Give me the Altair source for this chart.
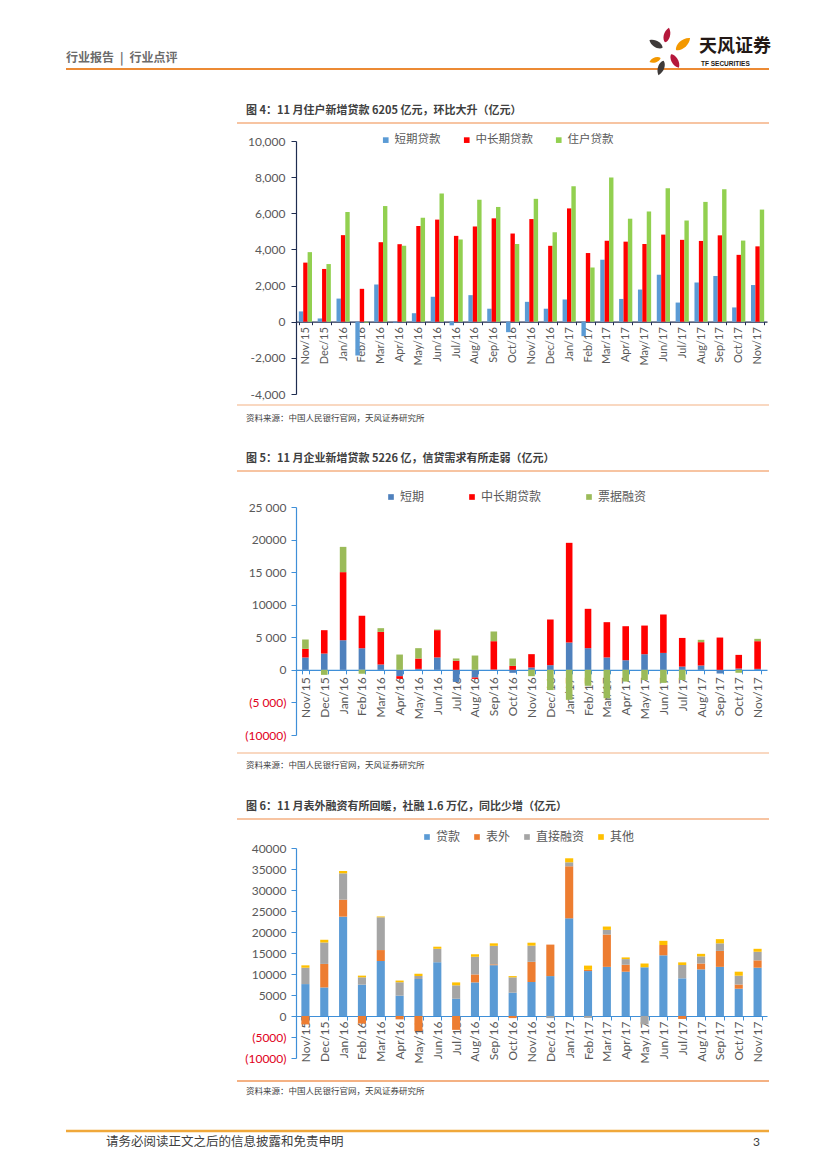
import altair as alt
import pandas as pd

# ---------------- data ----------------
MONTHS = ["Nov/15", "Dec/15", "Jan/16", "Feb/16", "Mar/16", "Apr/16", "May/16", "Jun/16",
          "Jul/16", "Aug/16", "Sep/16", "Oct/16", "Nov/16", "Dec/16", "Jan/17", "Feb/17",
          "Mar/17", "Apr/17", "May/17", "Jun/17", "Jul/17", "Aug/17", "Sep/17", "Oct/17", "Nov/17"]

# Figure 4: household loans
S4 = ["短期贷款", "中长期贷款", "住户贷款"]
HH_SHORT = [570, 180, 1280, -1870, 2060, -50, 470, 1380, -200, 1470, 720, -580, 1100, 720,
            1230, -800, 3430, 1260, 1780, 2600, 1060, 2170, 2530, 790, 2030]
HH_MIDLONG = [3270, 2920, 4790, 1820, 4400, 4290, 5300, 5650, 4750, 5270, 5720, 4880, 5680, 4200,
              6270, 3800, 4480, 4430, 4300, 4820, 4530, 4470, 4780, 3700, 4170]
HH_TOTAL = [3850, 3190, 6070, -50, 6400, 4200, 5750, 7100, 4550, 6750, 6350, 4300, 6800, 4950,
            7500, 3000, 7980, 5700, 6100, 7380, 5600, 6630, 7330, 4490, 6205]
Y4_TICKS = [-4000, -2000, 0, 2000, 4000, 6000, 8000, 10000]
Y4_LABELS = ["-4,000", "-2,000", "0", "2,000", "4,000", "6,000", "8,000", "10,000"]

# Figure 5: enterprise loans
S5 = ["短期", "中长期贷款", "票据融资"]
EN_SHORT = [1900, 2500, 4550, 3330, 820, -970, 150, 1900, -1850, -1180, 50, -460, 360, 720,
            4200, 3330, 1900, 1480, 2400, 2600, 500, 670, -560, 200, 150]
EN_MIDLONG = [1320, 3590, 10450, 4960, 5010, -410, 1590, 4190, 1400, -200, 4350, 610, 2050, 7010,
              15300, 6040, 5420, 5220, 4400, 5900, 4400, 3580, 4960, 2100, 4250]
EN_BILL = [1440, -770, 3880, -600, 570, 2350, 1590, 100, 350, 2200, 1490, 1130, -970, -3100,
           -4600, -2450, -4350, -1800, -1550, -2000, -1550, 360, 0, -450, 360]
Y5_TICKS = [-10000, -5000, 0, 5000, 10000, 15000, 20000, 25000]
Y5_LABELS = ["(10000)", "(5 000)", "0", "5 000", "10000", "15 000", "20000", "25 000"]

# Figure 6: total social financing
S6 = ["贷款", "表外", "直接融资", "其他"]
SF_LOAN = [7600, 6800, 23650, 7460, 13100, 4840, 8800, 12800, 4100, 8000, 12100, 5550, 8100, 9500,
           23250, 10700, 11700, 10550, 11600, 14450, 8970, 11100, 11700, 6500, 11500]
SF_OFFBS = [-2000, 5600, 4050, -1800, 2600, -800, -3600, 0, -3300, 1900, 200, -500, 4800, 7500,
            12400, 300, 7700, 1650, 0, 2450, -700, 1400, 3800, 1000, 1750]
SF_DIRECT = [3900, 5100, 6270, 1750, 7800, 3200, 700, 3200, 3200, 4200, 4400, 3650, 3850, -500,
             950, -450, 1100, 1350, -2000, 0, 3170, 1700, 1800, 2100, 2050]
SF_OTHER = [560, 650, 560, 400, 200, 400, 550, 500, 700, 600, 600, 300, 700, 0,
            950, 1000, 800, 400, 900, 1000, 630, 600, 1000, 950, 700]
Y6_TICKS = [-10000, -5000, 0, 5000, 10000, 15000, 20000, 25000, 30000, 35000, 40000]
Y6_LABELS = ["(10000)", "(5000)", "0", "5000", "10000", "15000", "20000", "25000", "30000", "35000", "40000"]

TITLE4 = "图 4：11 月住户新增贷款 6205 亿元，环比大升（亿元）"
TITLE5 = "图 5：11 月企业新增贷款 5226 亿，信贷需求有所走弱（亿元）"
TITLE6 = "图 6：11 月表外融资有所回暖，社融 1.6 万亿，同比少增（亿元）"
SOURCE = "资料来源：中国人民银行官网，天风证券研究所"
HEADER = "行业报告\u2002|\u2002行业点评"
FOOTER = "请务必阅读正文之后的信息披露和免责申明"
PAGE_NO = "3"

# ---------------- styles ----------------
CJK = "Noto Sans CJK SC"
LAT = "Lato"
GRAY = "#595959"
NAVY = "#1f2d50"
BLUE_AX = "#3f8fd8"
NEG_RED = "#e0001b"
ORANGE_LINE = "#f4b183"
W = 471
H4, H5, H6 = 253, 228, 210
SP = 113

ONE = alt.Data(values=[{"d": 0}])
LEAF = "M0,-1 C0.6,-0.4 0.5,0.7 0,1 C-0.5,0.7 -0.6,-0.4 0,-1 Z"


def long(names, arrays):
    rows = []
    for k, (name, arr) in enumerate(zip(names, arrays)):
        for m, v in zip(MONTHS, arr):
            rows.append({"month": m, "series": name, "value": v, "k": k})
    return pd.DataFrame(rows)


def txt(x, y, s, size, color, weight="normal", font=CJK, align="left"):
    return alt.Chart(ONE).mark_text(
        align=align, baseline="middle", font=font, fontSize=size, fontWeight=weight, color=color
    ).encode(x=alt.value(x), y=alt.value(y), text=alt.value(s))


def hline(x1, x2, y, color, w):
    return alt.Chart(ONE).mark_rule(color=color, strokeWidth=w).encode(
        x=alt.value(x1), x2=alt.value(x2), y=alt.value(y))


def petal(x, y, ang, size, color):
    return alt.Chart(ONE).mark_point(
        shape=LEAF, filled=True, opacity=1, color=color, size=size, angle=ang, strokeWidth=0
    ).encode(x=alt.value(x), y=alt.value(y))


def label_expr(ticks, labels):
    e = "''"
    for t, l in zip(ticks, labels):
        e = f"datum.value == {t} ? '{l}' : ({e})"
    return e


def xaxis(offset, size, tick, pad, color):
    return alt.Axis(title=None, labelAngle=270, labelFont=LAT, labelFontSize=size, labelColor=GRAY,
                    labelPadding=pad, tickSize=tick, tickBand="extent", tickColor=color,
                    domainColor=color, domainWidth=1.2, offset=offset, labelOverlap=False, grid=False)


def legend(x, y, pad, size):
    return alt.Legend(title=None, orient="none", legendX=x, legendY=y, direction="horizontal",
                      symbolType="square", symbolSize=32, symbolStrokeWidth=0, labelFont=CJK,
                      labelFontSize=size, labelColor=GRAY, columnPadding=pad, labelOffset=3,
                      padding=0, labelLimit=300)


NEG_COLOR = {"condition": {"test": "datum.value < 0", "value": NEG_RED}, "value": GRAY}

# ---------------- figure 4 ----------------
df4 = long(S4, [HH_SHORT, HH_MIDLONG, HH_TOTAL])
d4 = [-4000, 10000]
off4 = -H4 * (0 - d4[0]) / (d4[1] - d4[0])
bars4 = alt.Chart(df4).mark_bar().encode(
    x=alt.X("month:N", sort=MONTHS, scale=alt.Scale(paddingInner=0.3, paddingOuter=0.15),
            axis=xaxis(off4, 11, 3, 2, NAVY)),
    xOffset=alt.XOffset("series:N", scale=alt.Scale(domain=S4)),
    y=alt.Y("value:Q", scale=alt.Scale(domain=d4, nice=False),
            axis=alt.Axis(title=None, values=Y4_TICKS, labelExpr=label_expr(Y4_TICKS, Y4_LABELS),
                          labelFont=LAT, labelFontSize=12, labelColor=GRAY, tickSize=5,
                          tickColor=NAVY, domainColor=NAVY, domainWidth=1.2, labelPadding=6,
                          grid=False)),
    color=alt.Color("series:N", scale=alt.Scale(domain=S4, range=["#5b9bd5", "#ff0000", "#92d050"]),
                    legend=legend(84, -7, 20, 11.5)),
)

deco4 = [
    hline(-287, -286, -132, "white", 1),  # page anchor
    txt(-230, -83, HEADER, 12, "#6b6b6b", "bold"),
    hline(-230, 473, -72, "#ec8a34", 2),
    petal(371, -106, 15, 230, "#b5173b"),
    petal(387, -97, 50, 340, "#f39800"),
    petal(360, -97, 300, 230, "#3e3a39"),
    petal(359, -81, 250, 140, "#f39800"),
    petal(379, -80, 150, 250, "#b5173b"),
    petal(365, -73, 200, 230, "#3e3a39"),
    txt(403, -94, "天风证券", 18, "#231815", "bold"),
    txt(405, -77, "TF SECURITIES", 6.5, "#231815", "bold", "Liberation Sans"),
    txt(-50, -30, TITLE4, 11, "#404040", "bold"),
    hline(-59, 473, -18, ORANGE_LINE, 1.5),
    hline(-59, 473, 264, ORANGE_LINE, 1.2),
    txt(-50, 277, SOURCE, 8.5, "#404040"),
]
p4 = alt.layer(bars4, *deco4).properties(width=W, height=H4)

# ---------------- figure 5 ----------------
df5 = long(S5, [EN_SHORT, EN_MIDLONG, EN_BILL])
d5 = [-10000, 25000]
off5 = -H5 * (0 - d5[0]) / (d5[1] - d5[0])
bars5 = alt.Chart(df5).mark_bar().encode(
    x=alt.X("month:N", sort=MONTHS, scale=alt.Scale(paddingInner=0.65, paddingOuter=0.325),
            axis=xaxis(off5, 12, 4, 3, BLUE_AX)),
    y=alt.Y("value:Q", stack="zero", scale=alt.Scale(domain=d5, nice=False),
            axis=alt.Axis(title=None, values=Y5_TICKS, labelExpr=label_expr(Y5_TICKS, Y5_LABELS),
                          labelFont=LAT, labelFontSize=12, labelColor=NEG_COLOR, tickSize=5,
                          tickColor=BLUE_AX, domainColor=BLUE_AX, domainWidth=1.2, labelPadding=5,
                          grid=False)),
    color=alt.Color("series:N", scale=alt.Scale(domain=S5, range=["#4f81bd", "#ff0000", "#9bbb59"]),
                    legend=legend(89, -16, 41, 12)),
    order=alt.Order("k:Q", sort="ascending"),
)
deco5 = [
    txt(-50, -48, TITLE5, 11, "#404040", "bold"),
    hline(-59, 473, -36, ORANGE_LINE, 1.5),
    hline(-59, 473, 246, ORANGE_LINE, 1.2),
    txt(-50, 258, SOURCE, 8.5, "#404040"),
]
p5 = alt.layer(bars5, *deco5).properties(width=W, height=H5)

# ---------------- figure 6 ----------------
df6 = long(S6, [SF_LOAN, SF_OFFBS, SF_DIRECT, SF_OTHER])
d6 = [-10000, 40000]
off6 = -H6 * (0 - d6[0]) / (d6[1] - d6[0])
bars6 = alt.Chart(df6).mark_bar().encode(
    x=alt.X("month:N", sort=MONTHS, scale=alt.Scale(paddingInner=0.57, paddingOuter=0.285),
            axis=xaxis(off6, 12, 4, 1, BLUE_AX)),
    y=alt.Y("value:Q", stack="zero", scale=alt.Scale(domain=d6, nice=False),
            axis=alt.Axis(title=None, values=Y6_TICKS, labelExpr=label_expr(Y6_TICKS, Y6_LABELS),
                          labelFont=LAT, labelFontSize=12, labelColor=NEG_COLOR, tickSize=5,
                          tickColor=BLUE_AX, domainColor=BLUE_AX, domainWidth=1.2, labelPadding=5,
                          grid=False)),
    color=alt.Color("series:N",
                    scale=alt.Scale(domain=S6, range=["#5b9bd5", "#ed7d31", "#a5a5a5", "#ffc000"]),
                    legend=legend(125, -17, 10, 12)),
    order=alt.Order("k:Q", sort="ascending"),
)
deco6 = [
    txt(-50, -41, TITLE6, 11, "#404040", "bold"),
    hline(-59, 473, -29, ORANGE_LINE, 1.5),
    hline(-59, 473, 233, ORANGE_LINE, 2),
    txt(-50, 243, SOURCE, 8.5, "#404040"),
    hline(-230, 473, 283, "#f0a83a", 2.5),
    txt(-190, 294, FOOTER, 12.5, "#404040"),
    txt(457, 294, PAGE_NO, 12, "#404040", "normal", LAT),
]
p6 = alt.layer(bars6, *deco6).properties(width=W, height=H6)

chart = alt.vconcat(p4, p5, p6, spacing=SP, bounds="flush").resolve_scale(
    x="independent", y="independent", color="independent", xOffset="independent"
).resolve_legend(color="independent").properties(
    padding=0, background="white"
).configure_view(stroke="transparent")

chart.save("out.html", embed_options={"renderer": "svg", "actions": False})
